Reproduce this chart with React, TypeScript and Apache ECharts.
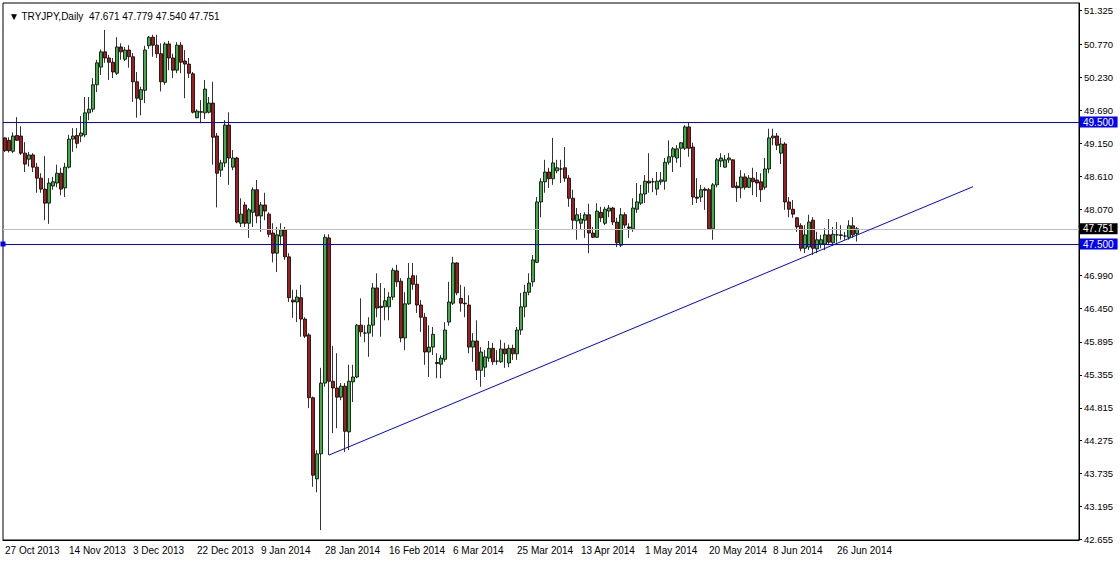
import React, { useEffect, useRef } from "react";
import * as echarts from "echarts";

// ---- data ----
const SYMBOL_TITLE = "TRYJPY,Daily  47.671 47.779 47.540 47.751";
const START = { y: 2013, m: 9, d: 27 }; // 27 Oct 2013, broker with Sunday bars (Sun–Fri)
const BAR_COUNT = 214;
const TOTAL_SLOTS = 269; // includes the empty chart-shift area on the right
const LABEL_EVERY = 16;
const MONTHS = ["Jan", "Feb", "Mar", "Apr", "May", "Jun", "Jul", "Aug", "Sep", "Oct", "Nov", "Dec"];

const opens = [
  49.24, 49.2, 49.02, 49.28, 49.27, 48.99, 48.89, 48.96, 48.76, 48.58,
  48.4, 48.17, 48.45, 48.5, 48.66, 48.42, 48.76, 49.22, 49.28, 49.27,
  49.29, 49.65, 49.71, 50.11, 50.4, 50.65, 50.55, 50.48, 50.3, 50.73,
  50.53, 50.68, 50.57, 50.16, 49.87, 50.02, 50.75, 50.89, 50.76, 50.62,
  50.15, 50.78, 50.55, 50.35, 50.76, 50.5, 50.45, 50.29, 49.57, 49.67,
  49.65, 49.66, 49.81, 49.27, 48.71, 48.83, 49.45, 48.76, 48.91, 47.84,
  48.14, 47.84, 48.02, 48.39, 47.96, 48.14, 47.99, 47.68, 47.35, 47.63,
  47.73, 47.29, 46.58, 46.55, 46.62, 46.27, 46.01, 44.98, 43.65, 44.06,
  45.22, 47.6, 45.25, 45.14, 44.99, 45.17, 44.42, 45.24, 45.32, 46.17,
  46.04, 46.04, 46.17, 46.78, 46.48, 46.47, 46.47, 46.63, 47.06, 46.89,
  45.96, 46.52, 46.98, 46.84, 46.5, 46.3, 45.73, 45.81, 45.56, 45.53,
  45.61, 46.22, 46.53, 47.19, 46.61, 46.53, 46.5, 45.81, 45.91, 45.43,
  45.48, 45.63, 45.79, 45.58, 45.57, 45.78, 45.55, 45.79, 45.7, 46.09,
  46.47, 46.71, 46.88, 47.2, 48.19, 48.52, 48.68, 48.57, 48.7, 48.73,
  48.75, 48.58, 48.25, 47.88, 47.84, 47.89, 47.98, 47.68, 47.61, 48.02,
  47.84, 48.04, 48.09, 47.86, 47.48, 47.98, 47.78, 47.75, 48.07, 48.17,
  48.32, 48.53, 48.52, 48.4, 48.52, 48.53, 48.84, 48.93, 48.91, 49.07,
  49.07, 49.42, 49.09, 48.27, 48.27, 48.4, 48.39, 47.75, 48.47, 48.86,
  48.76, 48.88, 48.88, 48.45, 48.42, 48.6, 48.43, 48.58, 48.55, 48.52,
  48.43, 48.73, 49.24, 49.27, 48.99, 49.14, 48.19, 48.07, 47.93, 47.8,
  47.43, 47.45, 47.89, 47.42, 47.5, 47.5, 47.65, 47.52, 47.65, 47.64,
  47.63, 47.61, 47.8, 47.671,
];
const highs = [
  49.25, 49.25, 49.33, 49.58, 49.43, 49.17, 49.01, 48.99, 48.83, 48.66,
  48.94, 48.58, 48.6, 48.8, 48.75, 48.83, 49.29, 49.4, 49.4, 49.6,
  49.91, 49.91, 50.22, 50.52, 50.69, 51.01, 50.6, 50.55, 50.89, 50.79,
  50.73, 50.76, 50.63, 50.32, 50.08, 50.75, 50.91, 50.93, 50.93, 50.79,
  50.81, 50.83, 50.62, 50.81, 50.81, 50.68, 50.55, 50.32, 49.71, 49.86,
  50.19, 49.91, 50.16, 49.32, 48.88, 49.53, 49.66, 49.04, 48.93, 48.25,
  48.19, 48.09, 48.43, 48.55, 48.19, 48.34, 48.02, 47.84, 47.78, 47.84,
  47.78, 47.35, 46.75, 46.75, 46.83, 46.3, 46.04, 45.0, 44.12, 45.47,
  47.66, 47.66, 45.83, 45.71, 45.22, 45.22, 45.52, 45.52, 46.19, 46.61,
  46.17, 46.3, 46.86, 47.02, 46.86, 46.78, 46.71, 47.11, 47.16, 46.94,
  46.71, 47.19, 47.19, 46.99, 46.58, 46.37, 46.17, 46.14, 45.71, 45.68,
  46.22, 46.88, 47.29, 47.2, 46.83, 46.8, 46.66, 46.04, 46.25, 45.81,
  45.76, 45.91, 45.88, 45.76, 45.93, 45.88, 45.85, 45.85, 46.14, 46.7,
  46.83, 47.02, 47.32, 48.27, 48.58, 48.88, 48.75, 49.24, 48.88, 48.88,
  49.09, 48.63, 48.39, 48.09, 48.01, 48.02, 48.16, 47.78, 48.17, 48.11,
  48.11, 48.14, 48.11, 47.93, 48.09, 48.02, 47.84, 48.25, 48.5, 48.47,
  48.63, 48.99, 48.58, 48.68, 48.68, 48.91, 49.2, 49.09, 49.12, 49.17,
  49.45, 49.5, 49.16, 48.58, 48.47, 48.43, 48.42, 48.5, 48.91, 48.99,
  48.96, 48.99, 48.89, 48.52, 48.71, 48.66, 48.63, 48.75, 48.68, 48.66,
  48.91, 49.39, 49.39, 49.32, 49.24, 49.17, 48.27, 48.22, 47.94, 47.84,
  47.81, 47.98, 47.94, 47.7, 47.65, 47.76, 47.91, 47.78, 47.86, 47.81,
  47.7, 47.89, 47.94, 47.779,
];
const lows = [
  49.01, 49.0, 48.99, 49.19, 48.96, 48.68, 48.77, 48.68, 48.34, 48.34,
  47.89, 47.83, 48.39, 48.43, 48.3, 48.27, 48.74, 49.01, 49.07, 49.17,
  49.25, 49.53, 49.66, 49.99, 50.27, 50.47, 50.19, 50.22, 50.27, 50.52,
  50.5, 50.39, 49.83, 49.57, 49.61, 49.81, 50.7, 50.57, 50.55, 50.0,
  50.11, 50.35, 50.22, 50.3, 50.3, 49.89, 50.22, 49.64, 49.56, 49.48,
  49.55, 49.64, 48.8, 48.1, 48.6, 48.76, 48.47, 48.71, 47.84, 47.78,
  47.78, 47.6, 47.78, 47.84, 47.7, 47.89, 47.61, 47.2, 47.04, 47.48,
  47.24, 46.55, 46.29, 46.22, 45.98, 45.96, 44.81, 43.52, 43.43, 42.81,
  45.16, 44.04, 44.4, 44.48, 44.94, 44.09, 44.12, 44.91, 45.3, 45.98,
  45.89, 45.65, 45.98, 46.3, 45.98, 46.25, 46.25, 46.58, 46.8, 45.89,
  45.76, 46.5, 46.75, 46.37, 46.06, 45.52, 45.32, 45.68, 45.3, 45.3,
  45.57, 46.16, 46.5, 46.66, 46.39, 46.3, 45.71, 45.57, 45.27, 45.16,
  45.32, 45.57, 45.52, 45.52, 45.55, 45.47, 45.48, 45.6, 45.6, 46.01,
  46.3, 46.66, 46.8, 47.19, 47.94, 48.34, 48.42, 48.47, 48.66, 48.5,
  48.52, 48.11, 47.73, 47.57, 47.73, 47.6, 47.35, 47.6, 47.6, 47.86,
  47.81, 47.94, 47.81, 47.45, 47.45, 47.76, 47.6, 47.7, 48.01, 48.14,
  48.17, 48.34, 48.35, 48.3, 48.47, 48.39, 48.8, 48.68, 48.83, 48.76,
  49.04, 48.93, 48.14, 48.17, 48.19, 48.06, 47.73, 47.57, 48.43, 48.76,
  48.75, 48.83, 48.42, 48.19, 48.25, 48.39, 48.42, 48.3, 48.27, 48.19,
  48.39, 48.66, 49.12, 49.04, 48.81, 48.06, 47.94, 47.93, 47.7, 47.38,
  47.35, 47.4, 47.32, 47.35, 47.43, 47.4, 47.48, 47.47, 47.52, 47.57,
  47.57, 47.57, 47.6, 47.54,
];
const closes = [
  49.03, 49.03, 49.27, 49.2, 48.99, 48.81, 48.96, 48.76, 48.58, 48.4,
  48.17, 48.5, 48.52, 48.66, 48.4, 48.76, 49.22, 49.27, 49.15, 49.32,
  49.65, 49.71, 50.11, 50.47, 50.65, 50.55, 50.48, 50.32, 50.73, 50.65,
  50.68, 50.57, 50.16, 49.89, 50.03, 50.68, 50.89, 50.76, 50.62, 50.16,
  50.78, 50.55, 50.35, 50.76, 50.48, 50.45, 50.3, 49.66, 49.68, 49.66,
  50.04, 49.81, 49.25, 48.66, 48.83, 49.45, 48.91, 48.91, 47.86, 47.99,
  47.84, 48.06, 48.39, 47.96, 48.14, 48.04, 47.66, 47.35, 47.65, 47.73,
  47.29, 46.62, 46.55, 46.63, 46.27, 45.99, 44.98, 43.71, 44.06, 45.22,
  47.61, 45.25, 45.14, 44.99, 45.17, 44.43, 45.25, 45.32, 46.17, 46.06,
  46.04, 46.17, 46.78, 46.45, 46.46, 46.57, 46.63, 47.07, 46.88, 45.96,
  46.52, 46.94, 46.84, 46.5, 46.3, 45.73, 45.81, 46.02, 45.54, 45.63,
  46.09, 46.55, 47.19, 46.7, 46.53, 46.52, 45.81, 45.91, 45.43, 45.73,
  45.65, 45.79, 45.57, 45.58, 45.78, 45.7, 45.79, 45.7, 46.09, 46.47,
  46.71, 46.86, 47.24, 48.19, 48.52, 48.68, 48.57, 48.83, 48.75, 48.73,
  48.58, 48.25, 47.89, 47.98, 47.91, 47.98, 47.68, 47.61, 48.04, 47.93,
  48.07, 48.09, 47.86, 47.52, 47.98, 47.81, 47.76, 48.09, 48.19, 48.32,
  48.53, 48.5, 48.52, 48.53, 48.55, 48.84, 48.93, 49.06, 49.06, 49.16,
  49.42, 49.07, 48.27, 48.25, 48.39, 48.38, 47.75, 48.47, 48.88, 48.91,
  48.88, 48.91, 48.43, 48.42, 48.6, 48.43, 48.58, 48.52, 48.5, 48.39,
  48.73, 49.24, 49.27, 49.12, 49.14, 48.19, 48.07, 47.99, 47.78, 47.43,
  47.65, 47.86, 47.43, 47.57, 47.57, 47.65, 47.53, 47.66, 47.65, 47.65,
  47.63, 47.8, 47.65, 47.751,
];

const priceTicks = [
  42.655, 43.195, 43.735, 44.275, 44.815, 45.355, 45.895, 46.45, 46.99,
  48.07, 48.61, 49.15, 49.69, 50.23, 50.77, 51.325,
];
const resistanceLevel = { value: 49.5, text: "49.500" };
const supportLevel = { value: 47.5, text: "47.500" };
const bidLevel = { value: 47.751, text: "47.751" };
const trendBars = [81, 242];
const trendPrices = [44.04, 48.44];

const Y_MIN = 42.648;
const Y_MAX = 51.451;

function buildDates(): string[] {
  const out: string[] = [];
  const d = new Date(Date.UTC(START.y, START.m, START.d));
  while (out.length < TOTAL_SLOTS) {
    if (d.getUTCDay() !== 6) {
      out.push(`${d.getUTCDate()} ${MONTHS[d.getUTCMonth()]} ${d.getUTCFullYear()}`);
    }
    d.setUTCDate(d.getUTCDate() + 1);
  }
  return out;
}

export default function App() {
  const ref = useRef<HTMLDivElement>(null);

  useEffect(() => {
    if (!ref.current) return;
    const chart = echarts.init(ref.current, undefined, { renderer: "svg" });
    const dates = buildDates();
    const candles = opens.map((o, i) => [o, closes[i], lows[i], highs[i]]);
    const showLabel = (i: number) => i % LABEL_EVERY === 0 && i < BAR_COUNT;
    const font = "'Liberation Sans', Arial, sans-serif";

    const tag = (bg: string, text: string) => ({
      show: true,
      position: "end",
      distance: 1,
      formatter: text,
      color: "#fff",
      backgroundColor: bg,
      padding: [1, 4, 0, 3],
      fontSize: 10,
      fontFamily: font,
    });

    chart.setOption({
      animation: false,
      backgroundColor: "#ffffff",
      textStyle: { fontFamily: font },
      title: {
        text: "▼ " + SYMBOL_TITLE,
        left: 4,
        top: 6,
        textStyle: { fontSize: 10, fontWeight: "normal", color: "#000", fontFamily: font },
      },
      grid: {
        left: 3,
        right: 41,
        top: 3,
        bottom: 22,
        show: true,
        borderColor: "#000",
        borderWidth: 1,
        backgroundColor: "transparent",
      },
      xAxis: {
        type: "category",
        data: dates,
        boundaryGap: true,
        axisLine: { lineStyle: { color: "#000", width: 1 } },
        axisTick: {
          alignWithLabel: true,
          interval: (i: number) => showLabel(i),
          length: 5,
          lineStyle: { color: "#000" },
        },
        axisLabel: {
          interval: (i: number) => showLabel(i),
          align: "left",
          padding: [0, 0, 0, 0],
          margin: 5,
          fontSize: 10,
          color: "#000",
          fontFamily: font,
        },
        splitLine: { show: false },
      },
      yAxis: {
        type: "value",
        position: "right",
        min: Y_MIN,
        max: Y_MAX,
        axisLine: { show: true, lineStyle: { color: "#000" } },
        axisTick: { show: true, customValues: priceTicks, length: 3, lineStyle: { color: "#000" } },
        axisLabel: {
          customValues: priceTicks,
          formatter: (v: number) => v.toFixed(3),
          fontSize: 9.5,
          color: "#000",
          margin: 5,
          fontFamily: font,
        },
        splitLine: { show: false },
      },
      series: [
        {
          type: "candlestick",
          data: candles,
          barWidth: 3,
          itemStyle: {
            color: "#3cae44",
            color0: "#a11c1c",
            borderColor: "#000",
            borderColor0: "#000",
            borderWidth: 0.8,
          },
          markLine: {
            silent: true,
            animation: false,
            symbol: ["none", "none"],
            data: [
              {
                yAxis: bidLevel.value,
                lineStyle: { color: "#c0c0c0", width: 1, type: "solid" },
                label: tag("#000000", bidLevel.text),
              },
              {
                yAxis: resistanceLevel.value,
                lineStyle: { color: "#0000ff", width: 1, type: "solid" },
                label: tag("#0000ff", resistanceLevel.text),
              },
              {
                yAxis: supportLevel.value,
                symbol: ["emptyRect", "emptyRect"],
                symbolSize: 5,
                lineStyle: { color: "#0000ff", width: 1, type: "solid" },
                label: tag("#0000ff", supportLevel.text),
              },
            ],
          },
        },
        {
          type: "line",
          data: trendBars.map((b, i) => [b, trendPrices[i]]),
          symbol: "none",
          silent: true,
          lineStyle: { color: "#0000ff", width: 1 },
          z: 5,
        },
      ],
    });

    return () => chart.dispose();
  }, []);

  return (
    <div
      ref={ref}
      style={{ position: "fixed", left: 0, top: 0, width: 1120, height: 562, background: "#fff" }}
    />
  );
}
